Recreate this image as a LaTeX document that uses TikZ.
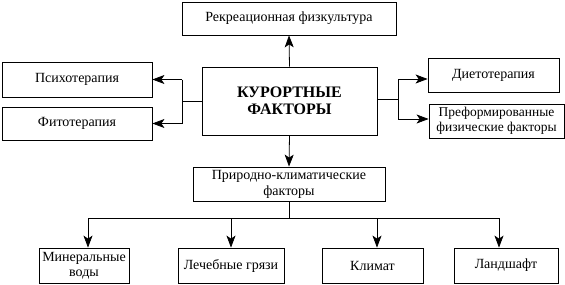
\documentclass[tikz,border=0pt]{standalone}
\usepackage{fontspec}
\setmainfont{Liberation Serif}
\usetikzlibrary{arrows.meta}
\begin{document}
\begin{tikzpicture}[x=1pt,y=-1pt,
  box/.style={draw,line width=0.8pt,inner sep=0pt,align=center,font=\fontsize{14}{15}\selectfont},
  conn/.style={line width=0.8pt},
  arr/.style={conn,-{Stealth[length=12pt,width=9pt,inset=3pt]}}]
\useasboundingbox (0,0) rectangle (565,284);
\node[box,minimum width=214,minimum height=33] (top) at (289,18.5) {Рекреационная физкультура};
\node[box,minimum width=175,minimum height=68,font=\fontsize{16}{17}\selectfont\bfseries] (main) at (289.5,101) {КУРОРТНЫЕ\\ФАКТОРЫ};
\node[box,minimum width=150,minimum height=35] (psy) at (77,79.5) {Психотерапия};
\node[box,minimum width=150,minimum height=33] (fito) at (77,123.5) {Фитотерапия};
\node[box,minimum width=131,minimum height=34] (diet) at (493.5,75) {Диетотерапия};
\node[box,minimum width=135,minimum height=34,font=\fontsize{13.5}{15}\selectfont] (pref) at (496.5,121) {Преформированные\\физические факторы};
\node[box,minimum width=192,minimum height=34,font=\fontsize{14}{16}\selectfont] (prir) at (289,184) {Природно-климатические\\факторы};
\node[box,minimum width=90,minimum height=35] (min) at (84,265.5) {Минеральные\\воды};
\node[box,minimum width=106,minimum height=35] (leb) at (231,265.5) {Лечебные грязи};
\node[box,minimum width=101,minimum height=35] (klim) at (372.5,265.5) {Климат};
\node[box,minimum width=104,minimum height=35] (land) at (506,265.5) {Ландшафт};
% up
\draw[arr] (main.north) -- (top.south);
% left
\coordinate (lj) at (182,101);
\draw[conn] (main.west) -- (lj);
\draw[conn] (lj |- psy) -- (lj |- fito);
\draw[arr] (lj |- psy) -- (psy.east);
\draw[arr] (lj |- fito) -- (fito.east);
% right
\coordinate (rj) at (398,99);
\draw[conn] (main.east |- rj) -- (rj);
\coordinate (rj1) at (398,79);
\coordinate (rj2) at (398,119);
\draw[conn] (rj1) -- (rj2);
\draw[arr] (rj1) -- (diet.west |- rj1);
\draw[arr] (rj2) -- (pref.west |- rj2);
% down
\draw[arr] (main.south) -- (prir.north);
\coordinate (bj) at (289,218);
\draw[conn] (prir.south) -- (bj);
\coordinate (b1) at (88,218);
\coordinate (b2) at (231,218);
\coordinate (b3) at (377,218);
\coordinate (b4) at (499,218);
\draw[conn] (b1) -- (b4);
\draw[arr] (b1) -- (b1 |- min.north);
\draw[arr] (b2) -- (leb.north);
\draw[arr] (b3) -- (b3 |- klim.north);
\draw[arr] (b4) -- (b4 |- land.north);
\end{tikzpicture}
\end{document}
